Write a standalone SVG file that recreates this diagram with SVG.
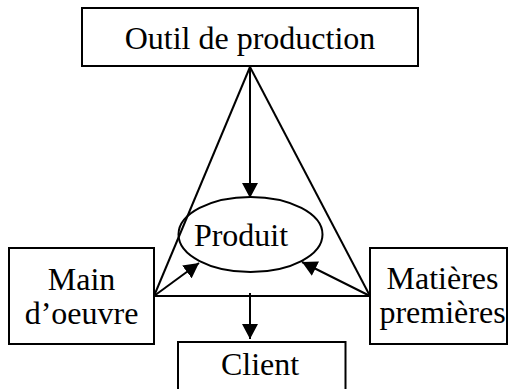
<svg xmlns="http://www.w3.org/2000/svg" width="509" height="389" viewBox="0 0 509 389">
  <defs>
    <marker id="arrow" markerUnits="userSpaceOnUse" markerWidth="16" markerHeight="16" refX="15" refY="8" orient="auto">
      <path d="M0,0 L15,8 L0,16 z" fill="#000"/>
    </marker>
    <style>
      .box { fill: #fff; stroke: #000; stroke-width: 2; }
      .oval { fill: none; stroke: #000; stroke-width: 2; }
      .lbl { font-family: "Liberation Serif", "Times New Roman", serif; font-size: 32px; fill: #000; text-anchor: middle; }
      .edge { fill: none; stroke: #000; stroke-width: 2; }
    </style>
  </defs>
  <rect width="509" height="389" fill="#fff"/>

  <!-- connectors -->
  <g id="connectors">
    <!-- triangle frame -->
    <line class="edge" x1="250" y1="67" x2="154" y2="296"/>
    <line class="edge" x1="250" y1="67" x2="370" y2="296"/>
    <line class="edge" x1="154" y1="296" x2="370" y2="296"/>
    <!-- arrows into / out of the product -->
    <line class="edge" x1="250" y1="67" x2="250" y2="198" marker-end="url(#arrow)"/>
    <line class="edge" x1="154" y1="296" x2="199" y2="263" marker-end="url(#arrow)"/>
    <line class="edge" x1="370" y1="296" x2="302" y2="262" marker-end="url(#arrow)"/>
    <line class="edge" x1="250" y1="293" x2="250" y2="339" marker-end="url(#arrow)"/>
  </g>

  <g id="outil">
    <rect class="box" x="82" y="8" width="336" height="58"/>
    <text class="lbl" x="250" y="49">Outil de production</text>
  </g>

  <g id="produit">
    <ellipse class="oval" cx="250.5" cy="234.5" rx="72" ry="37.5"/>
    <text class="lbl" x="241" y="246">Produit</text>
  </g>

  <g id="main">
    <rect class="box" x="9" y="248" width="145" height="96"/>
    <text class="lbl" x="81.5" y="290">Main</text>
    <text class="lbl" x="81.5" y="324">d’oeuvre</text>
  </g>

  <g id="matieres">
    <rect class="box" x="370" y="248" width="137" height="96"/>
    <text class="lbl" x="442.5" y="289">Matières</text>
    <text class="lbl" x="442.5" y="323">premières</text>
  </g>

  <g id="client">
    <rect class="box" x="178" y="342" width="167.5" height="60"/>
    <text class="lbl" x="260" y="375">Client</text>
  </g>
</svg>
